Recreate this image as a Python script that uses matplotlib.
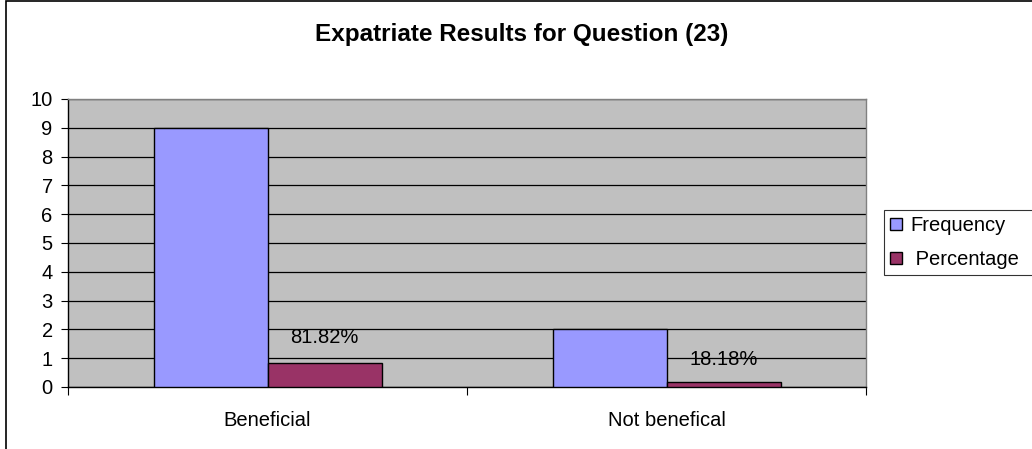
import numpy as np
import matplotlib
matplotlib.use("Agg")
import matplotlib.pyplot as plt
from matplotlib.patches import Rectangle, Patch

plt.rcParams["font.family"] = ["Liberation Sans", "DejaVu Sans"]

# DATA

categories = ["Beneficial", "Not benefical"]
frequency = [9, 2]
percentage = [0.8182, 0.1818]
pct_labels = ["81.82%", "18.18%"]
series_names = ["Frequency", " Percentage"]

# FIGURE

W, H = 1032, 449
fig = plt.figure(figsize=(W / 100, H / 100), dpi=100)

ax = fig.add_axes([68 / W, 1 - 387 / H, (866 - 68) / W, (387 - 99) / H])
ax.set_facecolor("#C0C0C0")

x = np.arange(len(categories))
bw = 2 / 7

ax.bar(x - bw / 2, frequency, width=bw, color="#9999FF",
       edgecolor="black", linewidth=1, zorder=3)
ax.bar(x + bw / 2, percentage, width=bw, color="#993366",
       edgecolor="black", linewidth=1, zorder=3)

for xi, v, lab in zip(x, percentage, pct_labels):
    ax.annotate(lab, (xi + bw / 2, v), xytext=(0, 16 if v > 0.5 else 13),
                textcoords="offset pixels", ha="center", va="bottom",
                fontsize=14.5, zorder=4)

ax.set_xlim(-0.5, 1.5)
ax.set_ylim(0, 10)
ax.set_yticks(range(0, 11))
ax.yaxis.grid(True, color="black", linewidth=0.9, zorder=1)
ax.set_axisbelow(True)

ax.set_xticks([-0.5, 0.5, 1.5])
ax.set_xticklabels([])
ax.set_xticks(x, minor=True)
ax.set_xticklabels(categories, minor=True)
ax.tick_params(axis="x", which="minor", length=0, pad=17, labelsize=14.5)
ax.tick_params(axis="x", which="major", length=6, width=0.8, direction="out")
ax.tick_params(axis="y", length=5, width=0.8, direction="out",
               labelsize=14.5, pad=6)

for s in ["left", "bottom"]:
    ax.spines[s].set_color("black")
    ax.spines[s].set_linewidth(1)
for s in ["top", "right"]:
    ax.spines[s].set_color("#808080")
    ax.spines[s].set_linewidth(1)

fig.text(522 / W, 1 - 35 / H, "Expatriate Results for Question (23)",
         ha="center", va="center", fontsize=17.5, fontweight="bold")

handles = [
    Patch(facecolor="#9999FF", edgecolor="black", linewidth=1),
    Patch(facecolor="#993366", edgecolor="black", linewidth=1),
]
leg = fig.legend(handles, series_names, loc="upper left",
                 bbox_to_anchor=(884 / W, 1 - 210 / H, 0.2, 0.0),
                 mode="expand",
                 frameon=True, fancybox=False, fontsize=14.5,
                 handlelength=0.6, handleheight=0.6, handletextpad=0.4,
                 labelspacing=0.75, borderpad=0.3, borderaxespad=0)
leg.get_frame().set_edgecolor("black")
leg.get_frame().set_linewidth(0.8)

# outer chart border
fig.patches.append(Rectangle((6 / W, -0.1), 1.2, 1.1 - 1.5 / H,
                             transform=fig.transFigure, fill=False,
                             edgecolor="black", linewidth=1.2))

fig.savefig("out.png", dpi=100)
